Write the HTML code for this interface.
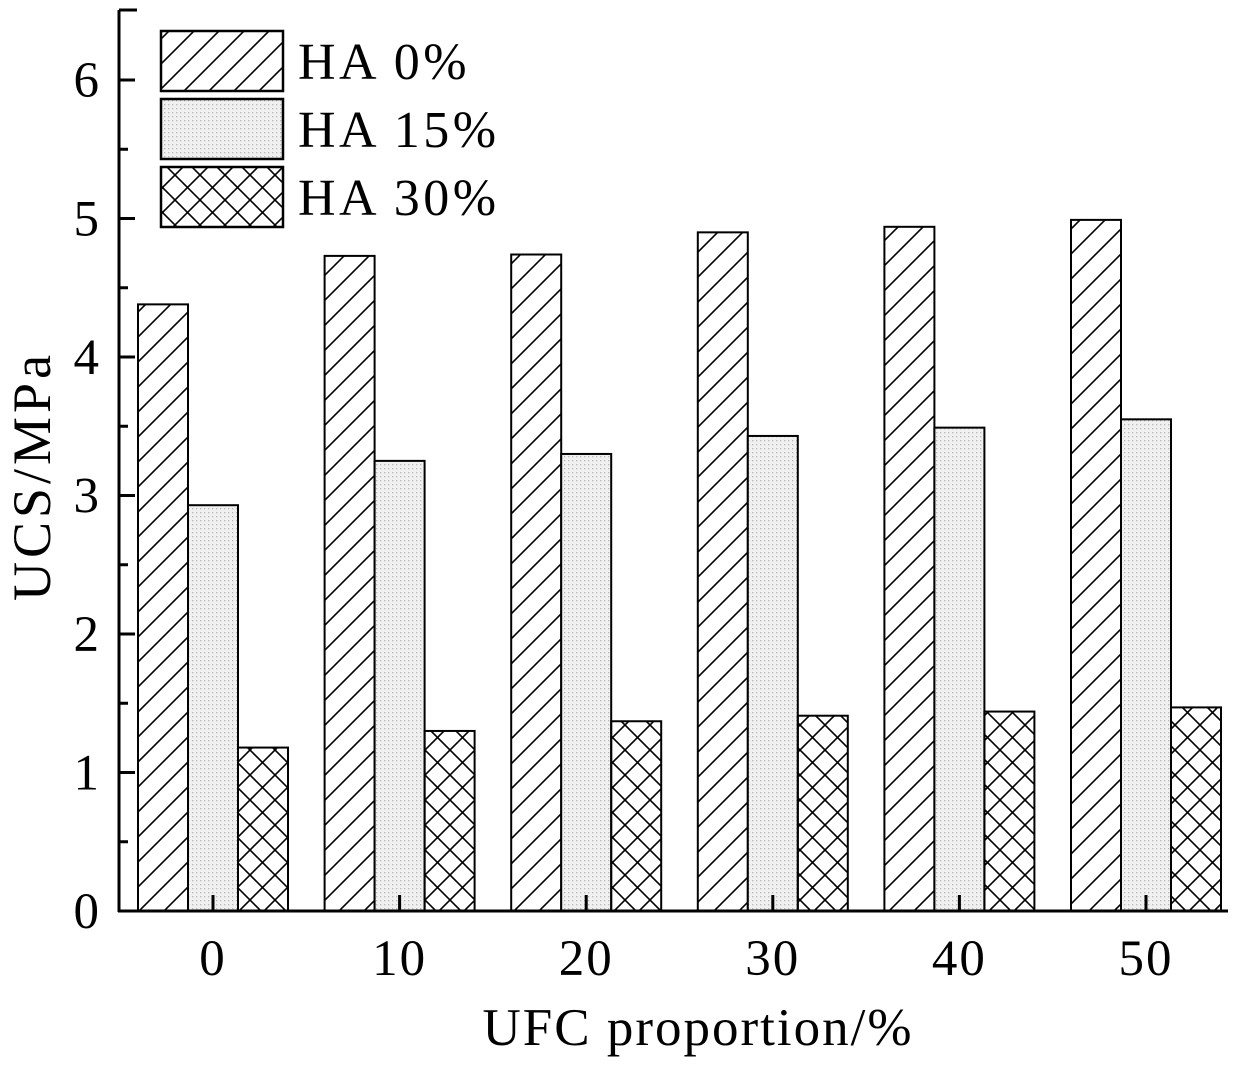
<!DOCTYPE html>
<html><head><meta charset="utf-8"><style>
body{margin:0;background:#fff}
text{font-family:"Liberation Serif",serif;fill:#000}
</style></head><body>
<svg id="chart" width="1252" height="1060" viewBox="0 0 1252 1060" xmlns="http://www.w3.org/2000/svg">
<defs>
<pattern id="diag" patternUnits="userSpaceOnUse" width="25" height="25">
<path d="M-5,30 L30,-5 M-5,5 L5,-5 M20,30 L30,20" stroke="#000" stroke-width="1.6"/>
</pattern>
<pattern id="dots" patternUnits="userSpaceOnUse" width="4" height="4">
<rect width="4" height="4" fill="#f0f0f0"/><rect width="1.3" height="1.3" fill="#b8b8b8"/>
</pattern>
<pattern id="cross" patternUnits="userSpaceOnUse" width="25" height="25">
<path d="M0,0 L25,25 M25,0 L0,25" stroke="#000" stroke-width="1.6"/>
</pattern>
</defs>
<g id="bars"></g>
<g id="axes"></g>
<g id="legend"></g>
</svg>
<script>
const categories=["0","10","20","30","40","50"];
const ha0=[4.38,4.73,4.74,4.90,4.94,4.99];
const ha15=[2.93,3.25,3.30,3.43,3.49,3.55];
const ha30=[1.18,1.30,1.37,1.41,1.44,1.47];
const yTicks=[0,1,2,3,4,5,6];
const seriesNames=["HA 0%","HA 15%","HA 30%"];

const NS="http://www.w3.org/2000/svg";
const x0=119,x1=1228,y0=911,yTop=10;
const yScale=v=>y0-v*138.5;
const xCenter=i=>213+i*186.6;
const bw=50;
const fills=["url(#diag)","url(#dots)","url(#cross)"];
function mk(tag,attrs,parent){const e=document.createElementNS(NS,tag);for(const k in attrs)e.setAttribute(k,attrs[k]);parent.appendChild(e);return e;}
const bars=document.getElementById('bars'),axes=document.getElementById('axes'),legend=document.getElementById('legend');
[ha0,ha15,ha30].forEach((s,si)=>{
 s.forEach((v,i)=>{
  const x=xCenter(i)-75+si*bw;
  const r=mk('rect',{x:x,y:yScale(v),width:bw,height:y0-yScale(v),fill:fills[si],stroke:"#000","stroke-width":2},bars);
  
  
 });
});
let l=mk('line',{x1:x0,y1:yTop,x2:x0,y2:y0+1,stroke:"#000","stroke-width":3},axes);

l=mk('line',{x1:x0-1,y1:y0,x2:x1,y2:y0,stroke:"#000","stroke-width":3},axes);

mk('line',{x1:x0,y1:yTop,x2:x0+18,y2:yTop,stroke:"#000","stroke-width":3},axes);
yTicks.forEach(t=>{
 const y=yScale(t);
 mk('line',{x1:x0,y1:y,x2:x0+16,y2:y,stroke:"#000","stroke-width":3},axes);
 if(t<6)mk('line',{x1:x0,y1:yScale(t+0.5),x2:x0+9,y2:yScale(t+0.5),stroke:"#000","stroke-width":3},axes);
 const tx=mk('text',{x:101,y:y+17,"text-anchor":"end","font-size":51,"letter-spacing":2},axes);tx.textContent=t;
 
});
categories.forEach((c,i)=>{
 mk('line',{x1:xCenter(i),y1:y0,x2:xCenter(i),y2:y0-16,stroke:"#000","stroke-width":3},axes);
 const tx=mk('text',{x:xCenter(i),y:975,"text-anchor":"middle","font-size":51,"letter-spacing":2},axes);tx.textContent=c;
 
});
let t=mk('text',{x:698,y:1045,"text-anchor":"middle","font-size":53,"letter-spacing":2},axes);t.textContent="UFC proportion/%";

t=mk('text',{x:0,y:0,"text-anchor":"middle","font-size":54,"letter-spacing":4,transform:"translate(50,476) rotate(-90)"},axes);t.textContent="UCS/MPa";

const ly=[31,99,167];
seriesNames.forEach((n,i)=>{
 const r=mk('rect',{x:161,y:ly[i],width:122,height:60,fill:fills[i],stroke:"#000","stroke-width":2.5},legend);
 
 const tx=mk('text',{x:298,y:ly[i]+48,"font-size":52,"letter-spacing":3.5},legend);tx.textContent=n;
 
});
</script>
</body></html>
